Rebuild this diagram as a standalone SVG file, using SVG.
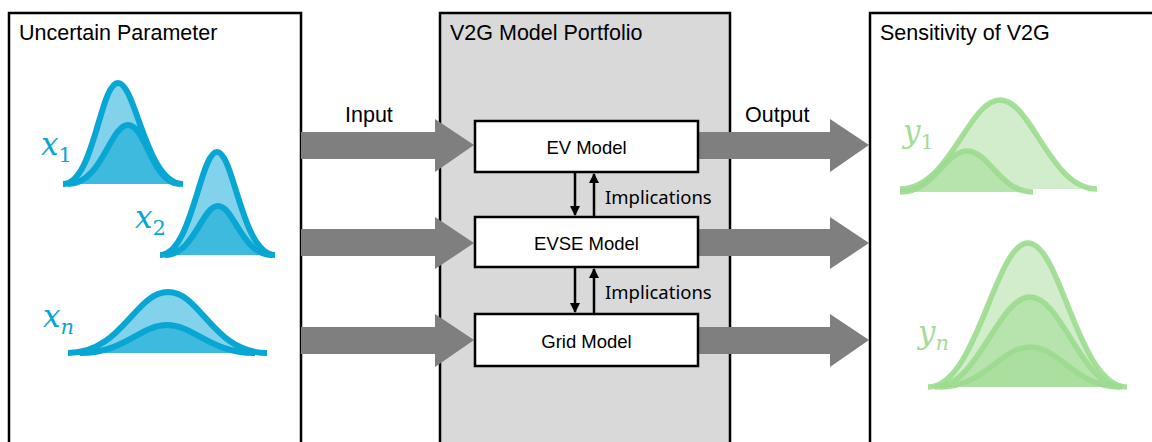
<svg xmlns="http://www.w3.org/2000/svg" width="1152" height="442" viewBox="0 0 1152 442">
<style>
.panel{stroke:#000;stroke-width:2.5}
.t{font-family:"Liberation Sans",Arial,sans-serif;font-size:21.5px;fill:#000}
.bt{font-family:"Liberation Sans",Arial,sans-serif;font-size:18.5px;fill:#000;text-anchor:middle}
.imp{font-family:"Noto Sans","Open Sans",sans-serif;font-size:18.5px;fill:#000}
.box{fill:#fff;stroke:#000;stroke-width:2.5}
.arr{fill:#7f7f7f}
.bl{stroke:#08a6d3;stroke-width:6;stroke-linecap:butt;stroke-linejoin:round}
.gr{stroke:#9bdb8e;stroke-width:5.5;stroke-opacity:0.9}
.m{font-family:"DejaVu Serif","Liberation Serif",serif;font-style:italic;font-size:31px}
.s{font-family:"DejaVu Serif","Liberation Serif",serif;font-size:21px}
.si{font-style:italic}
.link{stroke:#000;stroke-width:2.5;fill:none}
</style>
<defs>
<marker id="ah" viewBox="0 0 10 10" refX="9" refY="5" markerWidth="4" markerHeight="4" orient="auto" markerUnits="strokeWidth">
<path d="M0,0 L10,5 L0,10 z" fill="#000"/>
</marker>
</defs>

<g id="panel-uncertain">
<rect class="panel" x="9" y="13" width="292" height="440" fill="#fff"/>
<text class="t" x="19" y="40">Uncertain Parameter</text>
</g>
<g id="panel-portfolio">
<rect class="panel" x="440" y="13" width="290" height="440" fill="#d9d9d9"/>
<text class="t" x="450" y="40">V2G Model Portfolio</text>
</g>
<g id="panel-sensitivity">
<rect class="panel" x="870" y="13" width="300" height="440" fill="#fff"/>
<text class="t" x="880" y="40">Sensitivity of V2G</text>
</g>

<g id="dist-x1">
<path class="bl" fill="#82d2ec" d="M63,184 C94,184 100,83 118,83 C136,83 146,184 183,184"/>
<path class="bl" fill="#3fbadf" d="M68,184 C102,184 110,125 128,125 C146,125 152,184 180,184"/>
<text x="41" y="155" fill="#08a6d3"><tspan class="m">x</tspan><tspan class="s" dy="7">1</tspan></text>
</g>
<g id="dist-x2">
<path class="bl" fill="#82d2ec" d="M160,255 C192,255 200,152 217,152 C234,152 242,255 275,255"/>
<path class="bl" fill="#3fbadf" d="M165,255 C194,255 202,206 218,206 C234,206 242,255 272,255"/>
<text x="135" y="228" fill="#08a6d3"><tspan class="m">x</tspan><tspan class="s" dy="7">2</tspan></text>
</g>
<g id="dist-xn">
<path class="bl" fill="#82d2ec" d="M68,353 C122,353 135,292 168,292 C201,292 213,353 267,353"/>
<path class="bl" fill="#3fbadf" d="M80,353 C125,353 140,325 167,325 C194,325 210,353 255,353"/>
<text x="43" y="327" fill="#08a6d3"><tspan class="m">x</tspan><tspan class="s si" dy="7">n</tspan></text>
</g>

<g id="dist-y1">
<path class="gr" fill="#d1edcb" d="M900,189 C950,189 968,100 1000,100 C1032,100 1050,189 1097,189"/>
<path class="gr" fill="#b7e4ad" d="M900,192 C935,192 945,151 967,151 C989,151 1000,192 1033,192"/>
<text x="903" y="142" fill="#a3dc97"><tspan class="m">y</tspan><tspan class="s" dy="7">1</tspan></text>
</g>
<g id="dist-yn">
<path class="gr" fill="#d1edcb" d="M928,387 C977,387 995,243 1028,243 C1061,243 1078,387 1127,387"/>
<path class="gr" fill="#b7e4ad" d="M935,387 C978,387 998,297 1030,297 C1062,297 1082,387 1122,387"/>
<path class="gr" fill="#aadf9f" d="M940,387 C985,387 1000,347 1030,347 C1060,347 1075,387 1120,387"/>
<text x="918" y="343" fill="#a3dc97"><tspan class="m">y</tspan><tspan class="s si" dy="7">n</tspan></text>
</g>

<g id="connectors">
<path class="arr" d="M301,132 H435 V119 L474,145 L435,172 V159 H301 Z"/>
<path class="arr" d="M301,229 H435 V217 L474,243 L435,269 V256 H301 Z"/>
<path class="arr" d="M301,327 H435 V314 L474,340 L435,367 V354 H301 Z"/>
<path class="arr" d="M698,132 H830 V119 L869,145 L830,172 V159 H698 Z"/>
<path class="arr" d="M698,229 H830 V217 L869,243 L830,269 V256 H698 Z"/>
<path class="arr" d="M698,327 H830 V314 L869,340 L830,367 V354 H698 Z"/>
<line class="link" x1="575" y1="172" x2="575" y2="215" marker-end="url(#ah)"/>
<line class="link" x1="594" y1="217" x2="594" y2="174" marker-end="url(#ah)"/>
<line class="link" x1="575" y1="267" x2="575" y2="312" marker-end="url(#ah)"/>
<line class="link" x1="594" y1="314" x2="594" y2="269" marker-end="url(#ah)"/>
<text class="t" x="345" y="122">Input</text>
<text class="t" x="745" y="122">Output</text>
<text class="imp" x="605" y="204">Implications</text>
<text class="imp" x="605" y="299">Implications</text>
</g>

<g id="node-ev">
<rect class="box" x="475" y="121" width="223" height="51"/>
<text class="bt" x="586.5" y="154">EV Model</text>
</g>
<g id="node-evse">
<rect class="box" x="475" y="217" width="223" height="50"/>
<text class="bt" x="586.5" y="250">EVSE Model</text>
</g>
<g id="node-grid">
<rect class="box" x="475" y="314" width="223" height="52"/>
<text class="bt" x="586.5" y="348">Grid Model</text>
</g>
</svg>
